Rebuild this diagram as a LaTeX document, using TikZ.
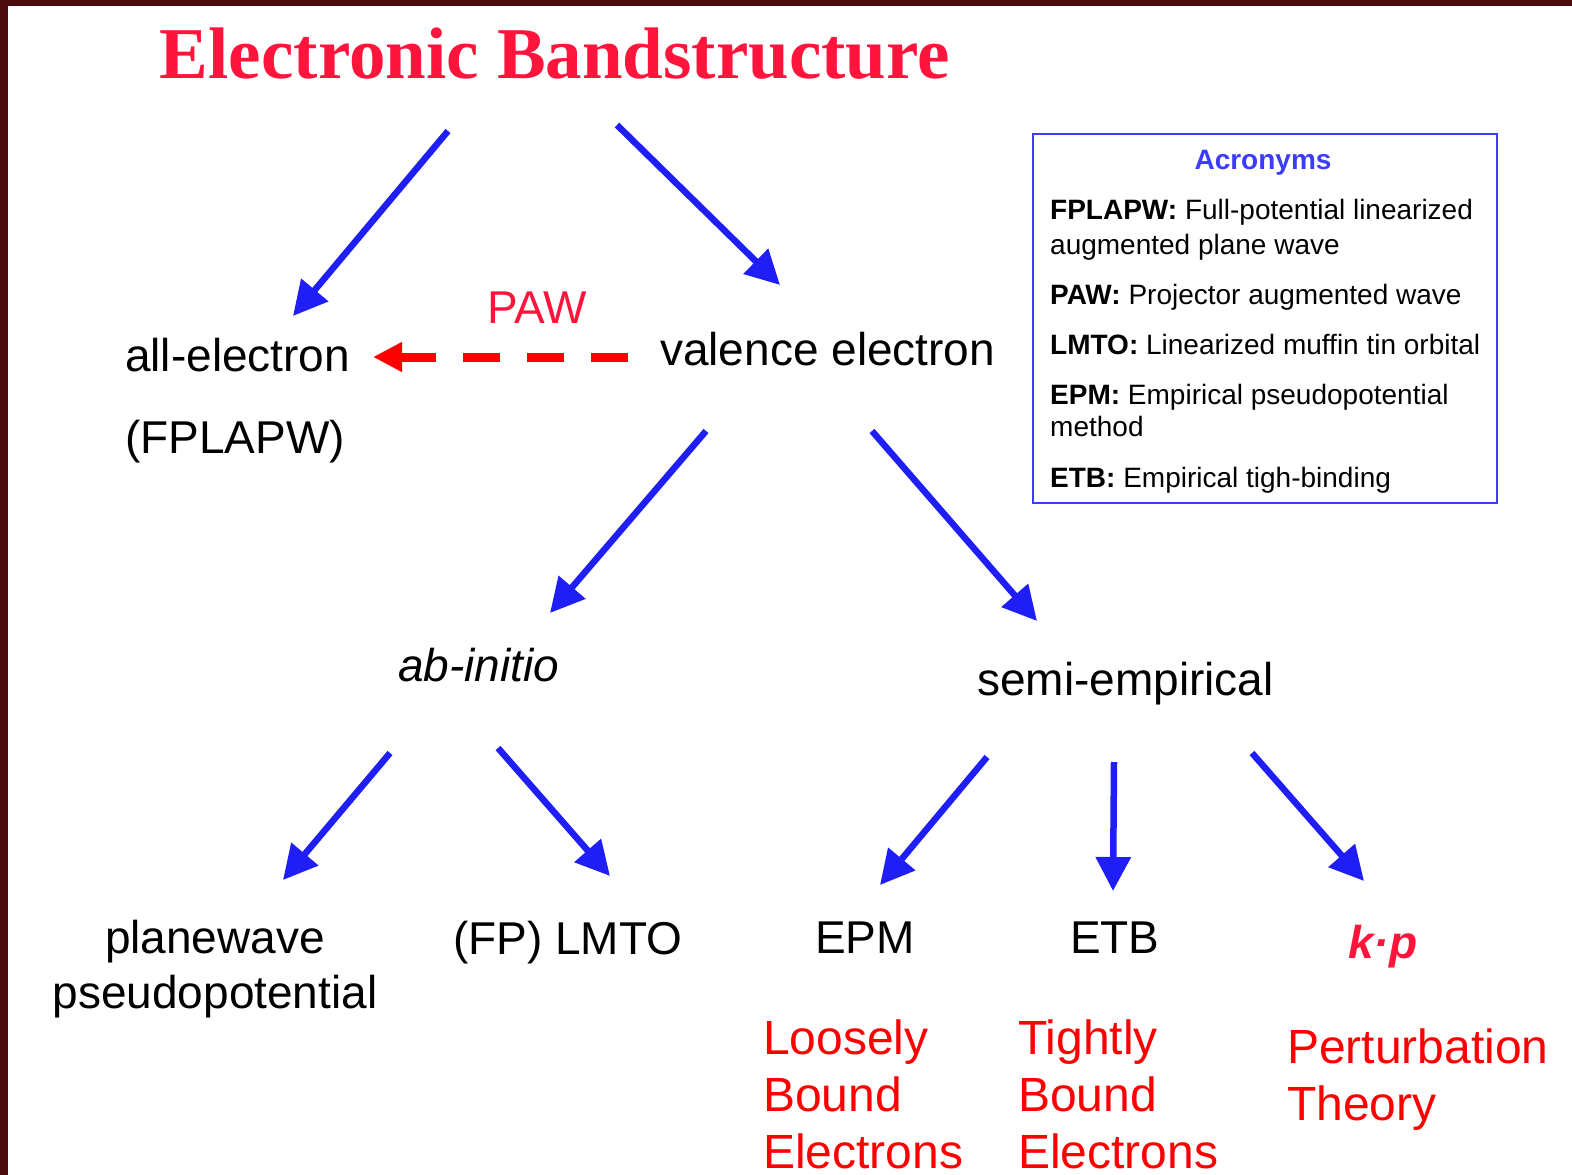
\documentclass[tikz,border=0pt]{standalone}
\usepackage{fontspec}
\setmainfont{Liberation Sans}
\newfontfamily\titlefont{Liberation Serif}
\usetikzlibrary{arrows.meta,positioning}
\definecolor{framebrown}{RGB}{74,12,12}
\definecolor{arrblue}{RGB}{30,30,245}
\definecolor{boxblue}{RGB}{60,60,255}
\definecolor{titlered}{RGB}{255,20,60}
\tikzset{
 lbl/.style={font=\fontsize{46}{55}\selectfont,inner sep=0pt},
 redlbl/.style={font=\fontsize{48}{57}\selectfont,text=red,inner sep=0pt,align=left,anchor=base west},
 acr/.style={font=\fontsize{28}{35}\selectfont,inner sep=0pt,anchor=base west,align=left},
 branch/.style={draw=arrblue,line width=6.5pt,-{Triangle[length=34pt,width=34pt]}},
}

\begin{document}
\begin{tikzpicture}[x=1pt,y=-1pt]
 \useasboundingbox (0,0) rectangle (1572,1175);
 \fill[framebrown] (0,0) rectangle (1572,6);
 \fill[framebrown] (0,0) rectangle (8,1175);

 \node[font=\titlefont\bfseries\fontsize{73}{80}\selectfont,text=titlered,anchor=base,inner sep=0pt] (title) at (555,78) {Electronic Bandstructure};

 % first level
 \node[lbl,anchor=base west] (allel) at (125,371) {all-electron};
 \node[lbl,anchor=base west] (fplapw) at (125,453) {(FPLAPW)};
 \node[lbl,anchor=base west] (valence) at (660,365) {valence electron};
 \node[lbl,anchor=base,text=titlered] (paw) at (537,323) {PAW};

 % second level
 \node[lbl,anchor=base west,font=\fontsize{46}{55}\selectfont\itshape] (abinitio) at (398,681) {ab-initio};
 \node[lbl,anchor=base west] (semi) at (977,695) {semi-empirical};

 % methods (base = last line)
 \node[lbl,anchor=base,align=center] (pwpp) at (215,1008) {planewave\\pseudopotential};
 \node[lbl,anchor=base west] (lmto) at (453,954) {(FP) LMTO};
 \node[lbl,anchor=base west] (epm) at (815,953) {EPM};
 \node[lbl,anchor=base west] (etb) at (1070,953) {ETB};
 \node[lbl,anchor=base west,font=\fontsize{46}{55}\selectfont\bfseries\itshape,text=titlered] (kp) at (1348,958) {k·p};

 \node[redlbl] (loose) at (763,1168) {Loosely\\Bound\\Electrons};
 \node[redlbl] (tight) at (1018,1168) {Tightly\\Bound\\Electrons};
 \node[redlbl] (pert) at (1287,1120) {Perturbation\\Theory};

 % acronyms box
 \node[draw=boxblue,line width=2pt,minimum width=464,minimum height=369,anchor=north west,inner sep=0pt] (acrbox) at (1032,133) {};
 \node[acr,anchor=base,font=\fontsize{28}{35}\selectfont\bfseries,text=boxblue] (acrtitle) at (1263,169) {Acronyms};
 \node[acr] (acr1) at (1050,254) {\textbf{FPLAPW:} Full-potential linearized\\augmented plane wave};
 \node[acr] (acr2) at (1050,304) {\textbf{PAW:} Projector augmented wave};
 \node[acr] (acr3) at (1050,354) {\textbf{LMTO:} Linearized muffin tin orbital};
 \node[acr,font=\fontsize{28}{32}\selectfont] (acr4) at (1050,436) {\textbf{EPM:} Empirical pseudopotential\\method};
 \node[acr] (acr5) at (1050,487) {\textbf{ETB:} Empirical tigh-binding};

 % arrow ends
 \coordinate (root-l) at (448,131);  \coordinate (ae-in) at (293,316);
 \coordinate (root-r) at (617,125);  \coordinate (ve-in) at (780,285);
 \coordinate (ve-l) at (706,431);    \coordinate (ai-in) at (550,613);
 \coordinate (ve-r) at (872,431);    \coordinate (se-in) at (1037,621);
 \coordinate (ai-l) at (390,753);    \coordinate (pw-in) at (283,880);
 \coordinate (ai-r) at (498,748);    \coordinate (lm-in) at (610,876);
 \coordinate (se-l) at (987,757);    \coordinate (epm-in) at (880,885);
 \coordinate (se-m) at (1114,762);   \coordinate (etb-in) at (1113,891);
 \coordinate (se-r) at (1252,753);   \coordinate (kp-in) at (1364,881);
 \coordinate (ve-w) at (628,357);    \coordinate (ae-e) at (373,357);

 \draw[branch] (root-l) -- (ae-in);
 \draw[branch] (root-r) -- (ve-in);
 \draw[branch] (ve-l) -- (ai-in);
 \draw[branch] (ve-r) -- (se-in);
 \draw[branch] (ai-l) -- (pw-in);
 \draw[branch] (ai-r) -- (lm-in);
 \draw[branch] (se-l) -- (epm-in);
 \draw[branch] (se-m) -- (etb-in);
 \draw[branch] (se-r) -- (kp-in);
 \draw[red,line width=9pt,dash pattern=on 37pt off 27pt,-{Triangle[length=29pt,width=28pt]}] (ve-w) -- (ae-e);
\end{tikzpicture}
\end{document}
